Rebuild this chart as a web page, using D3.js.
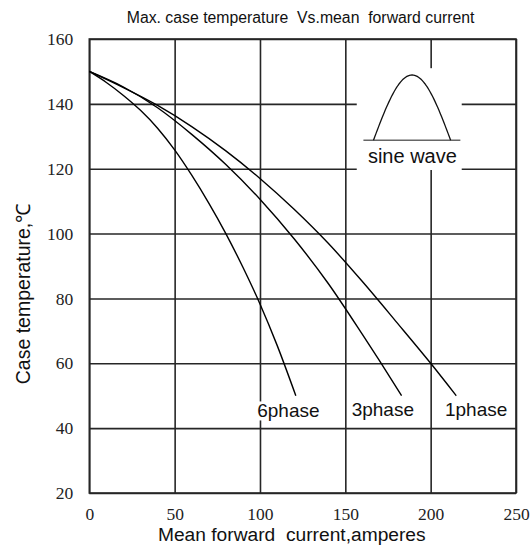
<!DOCTYPE html>
<html>
<head>
<meta charset="utf-8">
<script src="https://cdn.jsdelivr.net/npm/d3@7"></script>
<style>
  body { margin: 0; background: #fff; }
  svg { display: block; }
  text { white-space: pre; }
  .tick text { font-family: "Liberation Serif", "Times New Roman", serif; font-size: 17.5px; }
</style>
</head>
<body>
<svg id="chart" width="532" height="548"></svg>
<script>
// Axis ticks
const xTicks = [0, 50, 100, 150, 200, 250];
const yTicks = [20, 40, 60, 80, 100, 120, 140, 160];

// Derating curves: mean forward current (A) vs max case temperature (°C)
const current6 = [0, 10, 20, 30, 40, 50, 60, 70, 80, 90, 100, 110, 121];
const temp6    = [150, 146.6, 142.6, 138, 132.5, 125.8, 118, 109.4, 100, 89.6, 78.3, 65.6, 50];

const current3 = [0, 20, 40, 60, 80, 100, 120, 140, 160, 170, 183];
const temp3    = [150, 145.2, 138.8, 130.6, 121.3, 110.6, 98.4, 84.6, 68.9, 60.8, 50];

const current1 = [0, 20, 40, 60, 80, 100, 120, 140, 160, 180, 200, 215];
const temp1    = [150, 145, 139.5, 133, 125.5, 117, 107.5, 97, 85.2, 72.7, 60, 50];

// Curve labels and their anchor points (data units)
const phaseNames  = ["6phase", "3phase", "1phase"];
const phaseLabelX = [98.4, 153.7, 208.4];
const phaseLabelY = [43.3, 43.7, 43.7];

const titleText  = "Max. case temperature  Vs.mean  forward current";
const xTitleText = "Mean forward  current,amperes";
const yTitleText = "Case temperature,\u2103";

const series = [
  { name: phaseNames[0], x: current6, y: temp6, lx: phaseLabelX[0], ly: phaseLabelY[0] },
  { name: phaseNames[1], x: current3, y: temp3, lx: phaseLabelX[1], ly: phaseLabelY[1] },
  { name: phaseNames[2], x: current1, y: temp1, lx: phaseLabelX[2], ly: phaseLabelY[2] }
];

const svg = d3.select("#chart");
const plotLeft = 89.3, plotRight = 516, plotTop = 39, plotBottom = 493;

const x = d3.scaleLinear().domain([0, 250]).range([plotLeft, plotRight]);
const y = d3.scaleLinear().domain([20, 160]).range([plotBottom, plotTop]);

const gridColor = "#262626";
const sans = "Liberation Sans";

// Grid + tick labels
const gx = svg.append("g")
  .attr("transform", `translate(0,${plotBottom})`)
  .call(d3.axisBottom(x).tickValues(xTicks).tickSizeInner(-(plotBottom - plotTop)).tickSizeOuter(0).tickPadding(15));
const gy = svg.append("g")
  .attr("transform", `translate(${plotLeft},0)`)
  .call(d3.axisLeft(y).tickValues(yTicks).tickSizeInner(-(plotRight - plotLeft)).tickSizeOuter(0).tickPadding(16));

[gx, gy].forEach(g => {
  g.attr("font-family", null).attr("font-size", null);
  g.select(".domain").remove();
  g.selectAll(".tick line").attr("stroke", gridColor).attr("stroke-width", 1.6);
  g.selectAll(".tick text").attr("fill", "#222");
});

// Plot frame
svg.append("rect")
  .attr("x", x(0)).attr("y", y(160))
  .attr("width", x(250) - x(0)).attr("height", y(20) - y(160))
  .attr("fill", "none").attr("stroke", gridColor).attr("stroke-width", 1.6);

// Sine-wave inset (in data units so it sits with the grid)
const insetBox = { x0: 156.7, x1: 218.2, y0: 151, y1: 119.6 };
const insetBase = { x0: 160.6, x1: 217.4, y: 128.8 };
const insetHump = { x0: 166.5, x1: 211.7, peak: 148.9 };

svg.append("rect")
  .attr("x", x(insetBox.x0)).attr("y", y(insetBox.y0))
  .attr("width", x(insetBox.x1) - x(insetBox.x0))
  .attr("height", y(insetBox.y1) - y(insetBox.y0))
  .attr("fill", "#fff");

svg.append("line")
  .attr("x1", x(insetBase.x0)).attr("x2", x(insetBase.x1))
  .attr("y1", y(insetBase.y)).attr("y2", y(insetBase.y))
  .attr("stroke", "#666").attr("stroke-width", 1.4);

const humpPts = d3.range(0, 1.0001, 1 / 60).map(t => [
  x(insetHump.x0 + t * (insetHump.x1 - insetHump.x0)),
  y(insetBase.y + (insetHump.peak - insetBase.y) * Math.sin(Math.PI * t))
]);
svg.append("path")
  .attr("d", d3.line()(humpPts))
  .attr("fill", "none").attr("stroke", "#111").attr("stroke-width", 1.3);

svg.append("text")
  .attr("x", x(189.3)).attr("y", y(121.7))
  .attr("text-anchor", "middle")
  .attr("font-family", sans).attr("font-size", 20)
  .attr("fill", "#111")
  .text("sine wave");

// Curves
const line = d3.line()
  .x(d => x(d[0]))
  .y(d => y(d[1]))
  .curve(d3.curveMonotoneX);

series.forEach(s => {
  const pts = s.x.map((v, i) => [v, s.y[i]]);
  svg.append("path")
    .attr("d", line(pts))
    .attr("fill", "none")
    .attr("stroke", "#000")
    .attr("stroke-width", 1.4);
});

// Curve labels with a white backing
series.forEach(s => {
  const t = svg.append("text")
    .attr("x", x(s.lx)).attr("y", y(s.ly))
    .attr("font-family", sans).attr("font-size", 19)
    .attr("fill", "#111")
    .text(s.name);
  const bb = t.node().getBBox();
  svg.insert("rect", () => t.node())
    .attr("x", bb.x).attr("y", bb.y + 1)
    .attr("width", bb.width).attr("height", bb.height - 2)
    .attr("fill", "#fff");
});

// Titles
svg.append("text")
  .attr("x", 300.6).attr("y", 23)
  .attr("text-anchor", "middle")
  .attr("font-family", sans).attr("font-size", 15.8)
  .attr("fill", "#111")
  .text(titleText);

svg.append("text")
  .attr("x", 291.8).attr("y", 540.5)
  .attr("text-anchor", "middle")
  .attr("font-family", sans).attr("font-size", 19.2)
  .attr("fill", "#111")
  .text(xTitleText);

svg.append("text")
  .attr("transform", "translate(30,294) rotate(-90)")
  .attr("text-anchor", "middle")
  .attr("font-family", sans).attr("font-size", 19.5)
  .attr("fill", "#111")
  .text(yTitleText);
</script>
</body>
</html>
